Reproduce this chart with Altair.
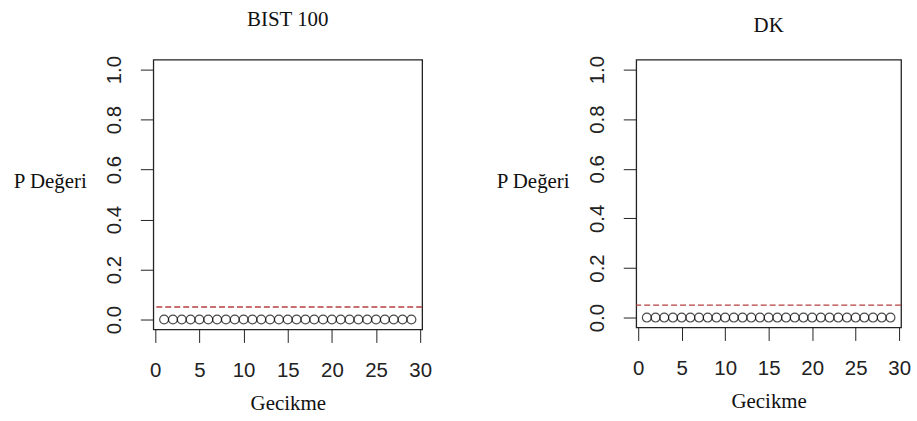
import altair as alt
import pandas as pd

lags = list(range(1, 30))
p_bist = [0.0, 0.0, 0.0, 0.0, 0.0, 0.0, 0.0, 0.0, 0.0, 0.0, 0.0, 0.0, 0.0, 0.0, 0.0,
          0.0, 0.0, 0.0, 0.0, 0.0, 0.0, 0.0, 0.0, 0.0, 0.0, 0.0, 0.0, 0.0, 0.0]
p_dk = [0.0, 0.0, 0.0, 0.0, 0.0, 0.0, 0.0, 0.0, 0.0, 0.0, 0.0, 0.0, 0.0, 0.0, 0.0,
        0.0, 0.0, 0.0, 0.0, 0.0, 0.0, 0.0, 0.0, 0.0, 0.0, 0.0, 0.0, 0.0, 0.0]
titles = ["BIST 100", "DK"]
threshold = 0.05
x_ticks = [0, 5, 10, 15, 20, 25, 30]
y_ticks = [0.0, 0.2, 0.4, 0.6, 0.8, 1.0]

SERIF = "Liberation Serif"
SANS = "Liberation Sans"


def panel(title, values, w, h, title_offset):
    df = pd.DataFrame({"Gecikme": lags, "P": values})
    xs = alt.X(
        "Gecikme:Q",
        scale=alt.Scale(domain=[-0.22, 30.22], nice=False, zero=False),
        axis=alt.Axis(
            values=x_ticks, title="Gecikme", grid=False, domain=False,
            tickSize=13, tickColor="#222", labelFont=SANS, labelFontSize=20.5,
            labelColor="#222", labelPadding=18, labelBaseline="top",
            titleFont=SERIF, titleFontSize=21, titleFontWeight="normal",
            titleColor="#111", titleBaseline="alphabetic", titleY=80,
        ),
    )
    ys = alt.Y(
        "P:Q",
        scale=alt.Scale(domain=[-0.04, 1.04], nice=False, zero=False),
        axis=alt.Axis(
            values=y_ticks, format=".1f", title="P Değeri", grid=False,
            domain=False, tickSize=13, tickColor="#222", labelFont=SANS,
            labelFontSize=20.5, labelColor="#222", labelAngle=270,
            labelAlign="center", labelBaseline="bottom", labelPadding=16,
            titleFont=SERIF, titleFontSize=21, titleFontWeight="normal",
            titleColor="#111", titleAngle=0, titleAlign="center",
            titleBaseline="alphabetic", titleX=-104, titleY=128,
        ),
    )
    pts = alt.Chart(df).mark_point(
        shape="circle", filled=False, size=80, color="black", strokeWidth=1.2
    ).encode(x=xs, y=ys)
    rule = alt.Chart(pd.DataFrame({"t": [threshold]})).mark_rule(
        color="#b5403f", strokeDash=[6, 3], strokeWidth=1.4
    ).encode(y=alt.Y("t:Q"))
    return alt.layer(rule, pts).properties(
        width=w, height=h,
        title=alt.TitleParams(
            title, font=SERIF, fontSize=21, fontWeight="normal",
            color="#111", offset=title_offset,
        ),
    )


left = panel(titles[0], p_bist, 270, 271, 26)
right = panel(titles[1], p_dk, 266, 269, 19)

chart = alt.hconcat(left, right, spacing=215, bounds="flush").configure_view(
    stroke="#222", strokeWidth=1.3
).properties(
    padding={"left": 12, "top": 7, "right": 5, "bottom": 5},
    background="white",
)

chart.save("out.html", embed_options={"renderer": "svg", "actions": False})
